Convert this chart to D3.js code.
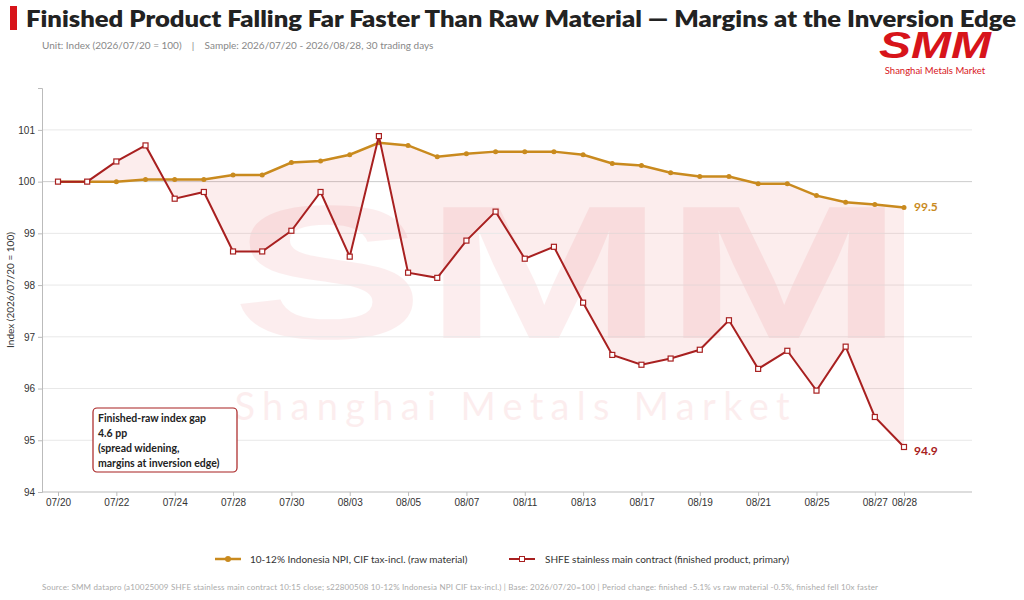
<!DOCTYPE html>
<html><head><meta charset="utf-8">
<script src="https://cdn.jsdelivr.net/npm/d3@7"></script>
<style>body{margin:0;background:#fff;font-family:Lato,"Noto Sans",sans-serif}</style>
</head><body><svg id="c" width="1024" height="600"></svg>
<script>
const dates=["07/20","07/21","07/22","07/23","07/24","07/27","07/28","07/29","07/30","07/31","08/03","08/04","08/05","08/06","08/07","08/10","08/11","08/12","08/13","08/14","08/17","08/18","08/19","08/20","08/21","08/24","08/25","08/26","08/27","08/28"];
const tickLabels=["07/20","07/22","07/24","07/28","07/30","08/03","08/05","08/07","08/11","08/13","08/17","08/19","08/21","08/25","08/27","08/28"];
const rawValues=[100,100,100,100.04,100.04,100.04,100.13,100.13,100.37,100.4,100.52,100.75,100.7,100.48,100.54,100.58,100.58,100.58,100.52,100.35,100.31,100.17,100.1,100.1,99.96,99.96,99.73,99.6,99.56,99.5];
const finValues=[100,100,100.39,100.7,99.67,99.8,98.65,98.65,99.05,99.8,98.55,100.88,98.24,98.14,98.86,99.42,98.51,98.74,97.66,96.65,96.46,96.58,96.75,97.32,96.38,96.73,95.96,96.81,95.45,94.87];
const yTicks=[94,95,96,97,98,99,100,101];
const gold="#C98A1E", red="#A82020";
const svg=d3.select("#c");
const L=42,R=972,T=88,B=492;
const x=d3.scalePoint().domain(dates).range([58,904]);
const y=d3.scaleLinear().domain([94,101.81]).range([B,T]);
svg.append("rect").attr("x",10).attr("y",6).attr("width",7).attr("height",24).attr("fill","#D7141A");
svg.append("text").attr("x",26).attr("y",27).attr("font-size",23).attr("font-weight",800).attr("fill","#222").attr("font-family","Lato").attr("textLength",990).attr("lengthAdjust","spacingAndGlyphs").text("Finished Product Falling Far Faster Than Raw Material — Margins at the Inversion Edge");
svg.append("text").attr("x",42).attr("y",49).attr("font-size",10).attr("fill","#888").attr("xml:space","preserve").text("Unit: Index (2026/07/20 = 100)    |    Sample: 2026/07/20 - 2026/08/28, 30 trading days");
svg.append("text").attr("x",935).attr("y",58).attr("text-anchor","middle").attr("font-size",36).attr("font-weight",900).attr("font-style","italic").attr("fill","#D7141A").attr("font-family","Liberation Sans").attr("textLength",112).attr("lengthAdjust","spacingAndGlyphs").text("SMM");
svg.append("text").attr("x",935).attr("y",74).attr("text-anchor","middle").attr("font-size",9.5).attr("fill","#D7141A").text("Shanghai Metals Market");
svg.append("text").attr("x",568).attr("y",338).attr("text-anchor","middle").attr("font-size",190).attr("font-weight",900).attr("fill","#D7141A").attr("opacity",0.07).attr("font-family","Liberation Sans").attr("textLength",672).attr("lengthAdjust","spacingAndGlyphs").text("SMM");
svg.append("text").attr("x",512).attr("y",420).attr("text-anchor","middle").attr("font-size",38).attr("fill","#D7141A").attr("opacity",0.07).attr("textLength",555).text("Shanghai Metals Market");
svg.append("g").selectAll("line").data(yTicks.slice(1)).join("line").attr("x1",L).attr("x2",R).attr("y1",d=>y(d)).attr("y2",d=>y(d)).attr("stroke",d=>d===100?"#ccc":"#e8e8e8");
svg.append("path").datum(dates.map((d,i)=>[d,rawValues[i],finValues[i]])).attr("fill","#D7141A").attr("opacity",0.08)
 .attr("d",d3.area().x(d=>x(d[0])).y0(d=>y(d[2])).y1(d=>y(d[1])));
const ya=svg.append("g").attr("transform",`translate(${L},0)`).call(d3.axisLeft(y).tickValues(yTicks).tickSize(4));
const xa=svg.append("g").attr("transform",`translate(0,${B})`).call(d3.axisBottom(x).tickValues(tickLabels).tickSize(4));
xa.select(".domain").attr("d",`M${L},0H${R}`);
[ya,xa].forEach(a=>{a.selectAll("path,line").attr("stroke","#bbb");a.selectAll("text").attr("fill","#333").attr("font-size",10);});
svg.append("text").attr("transform","translate(14,290) rotate(-90)").attr("text-anchor","middle").attr("font-size",10).attr("fill","#333").text("Index (2026/07/20 = 100)");
const line=d3.line().x((d,i)=>x(dates[i])).y(d=>y(d));
svg.append("path").datum(rawValues).attr("fill","none").attr("stroke",gold).attr("stroke-width",2.5).attr("d",line);
svg.append("g").selectAll("circle").data(rawValues).join("circle").attr("cx",(d,i)=>x(dates[i])).attr("cy",d=>y(d)).attr("r",2.5).attr("fill",gold);
svg.append("path").datum(finValues).attr("fill","none").attr("stroke",red).attr("stroke-width",2).attr("d",line);
svg.append("g").selectAll("rect").data(finValues).join("rect").attr("x",(d,i)=>x(dates[i])-2.5).attr("y",d=>y(d)-2.5).attr("width",5).attr("height",5).attr("fill","#fff").attr("stroke",red).attr("stroke-width",1.2);
svg.append("text").attr("x",914).attr("y",y(99.5)+4).attr("font-size",12).attr("font-weight",700).attr("fill",gold).text("99.5");
svg.append("text").attr("x",914).attr("y",y(94.87)+8).attr("font-size",12).attr("font-weight",700).attr("fill",red).text("94.9");
svg.append("rect").attr("x",93).attr("y",408).attr("width",144).attr("height",64).attr("rx",4).attr("fill","#fff").attr("stroke",red).attr("stroke-width",1.2);
["Finished-raw index gap","4.6 pp","(spread widening,","margins at inversion edge)"].forEach((t,i)=>svg.append("text").attr("x",98).attr("y",422+i*15).attr("font-size",10.5).attr("font-weight",700).attr("fill","#222").text(t));
const lg=svg.append("g");
lg.append("line").attr("x1",215).attr("x2",241).attr("y1",559).attr("y2",559).attr("stroke",gold).attr("stroke-width",2.5);
lg.append("circle").attr("cx",228).attr("cy",559).attr("r",3).attr("fill",gold);
lg.append("text").attr("x",250).attr("y",563).attr("font-size",10).attr("fill","#333").text("10-12% Indonesia NPI, CIF tax-incl. (raw material)");
lg.append("line").attr("x1",509).attr("x2",535).attr("y1",559).attr("y2",559).attr("stroke",red).attr("stroke-width",2);
lg.append("rect").attr("x",519.5).attr("y",556.5).attr("width",5).attr("height",5).attr("fill","#fff").attr("stroke",red);
lg.append("text").attr("x",545).attr("y",563).attr("font-size",10).attr("fill","#333").text("SHFE stainless main contract (finished product, primary)");
svg.append("text").attr("x",42).attr("y",590).attr("font-size",8).attr("fill","#aaa").attr("textLength",836).text("Source: SMM datapro (a10025009 SHFE stainless main contract 10:15 close; s22800508 10-12% Indonesia NPI CIF tax-incl.)  |  Base: 2026/07/20=100  |  Period change: finished -5.1% vs raw material -0.5%, finished fell 10x faster");
</script></body></html>
